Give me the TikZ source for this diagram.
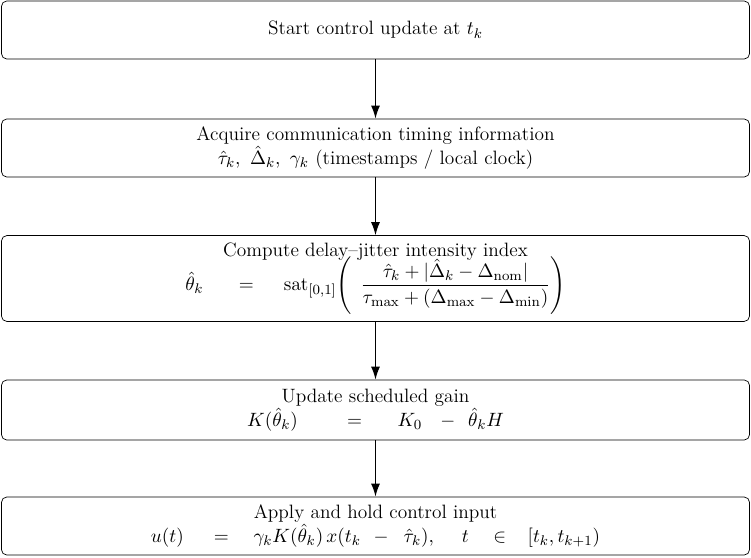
\documentclass[tikz,border=0pt]{standalone}
\usepackage{amsmath}
\usetikzlibrary{arrows.meta}

\begin{document}
\begin{tikzpicture}[
  stepbox/.style={rectangle, draw, rounded corners=3pt, minimum width=14.96cm,
    align=center, inner sep=4pt, font=\fontsize{11}{13.6}\selectfont},
  flow/.style={-{Latex[length=2.6mm,width=1.8mm]}, thick},
]

% Frame
\useasboundingbox (-7.51, 0) rectangle (7.51, -11.14);

% Steps
\node[stepbox, minimum height=1.16cm] (start) at (0, -0.60)
  {Start control update at $t_k$};
\node[stepbox, minimum height=1.16cm] (acquire) at (0, -2.96)
  {Acquire communication timing information\\
   $\hat{\tau}_k,\ \hat{\Delta}_k,\ \gamma_k$ (timestamps / local clock)};
\node[stepbox, minimum height=1.66cm] (index) at (0, -5.57)
  {Compute delay--jitter intensity index\\[-3pt]
   $\displaystyle \hat{\theta}_k \quad\;\; = \quad\; \mathrm{sat}_{[0,1]}\!\left(\;\,
     \frac{\hat{\tau}_k + |\hat{\Delta}_k - \Delta_{\mathrm{nom}}|}
          {\tau_{\max} + (\Delta_{\max} - \Delta_{\min})}\right)$};
\node[stepbox, minimum height=1.20cm] (gain) at (0, -8.20)
  {Update scheduled gain\\
   $K(\hat{\theta}_k) \qquad\; = \quad\;\; K_0 \;\;\, - \;\, \hat{\theta}_k H$};
\node[stepbox, minimum height=1.16cm] (apply) at (0, -10.52)
  {Apply and hold control input\\
   $u(t) \quad\; = \quad \gamma_k K(\hat{\theta}_k)\, x(t_k \;\,-\;\; \hat{\tau}_k),
    \quad\; t \quad \in \;\;\; [t_k, t_{k+1})$};

% Arrows
\draw[flow] (start) -- (acquire);
\draw[flow] (acquire) -- (index);
\draw[flow] (index) -- (gain);
\draw[flow] (gain) -- (apply);

\end{tikzpicture}
\end{document}
